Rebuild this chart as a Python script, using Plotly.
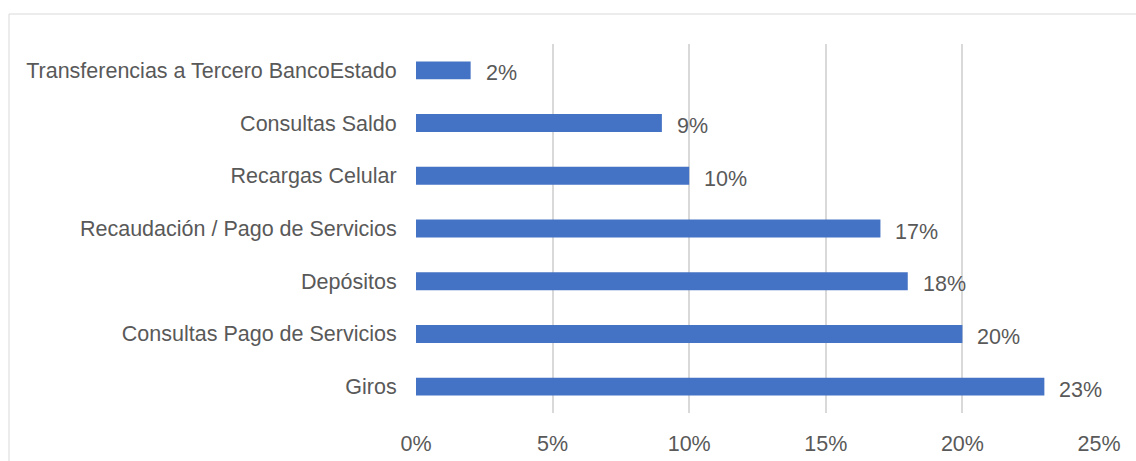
import plotly.graph_objects as go

categories = ["Giros", "Consultas Pago de Servicios", "Depósitos",
              "Recaudación / Pago de Servicios", "Recargas Celular",
              "Consultas Saldo", "Transferencias a Tercero BancoEstado"]
values = [23, 20, 18, 17, 10, 9, 2]
tick_vals = [0, 5, 10, 15, 20, 25]
tick_text = ["0%", "5%", "10%", "15%", "20%", "25%"]

W, H = 1136, 461
L, R, T, B = 416, 37, 44, 48
pw, ph = W - L - R, H - T - B
FS = 21.5
FONT = "Liberation Sans, Arial, sans-serif"

fig = go.Figure()
fig.add_trace(go.Bar(
    x=values, y=categories, orientation="h",
    marker=dict(color="#4472C4", line=dict(width=0)),
    width=0.34, hoverinfo="skip",
))
for v, c in zip(values, categories):
    fig.add_annotation(x=v, y=c, text=f"{v}%", showarrow=False,
                       xanchor="left", yanchor="middle", xshift=13, yshift=-3,
                       font=dict(family=FONT, size=FS, color="#595959"))

fig.add_shape(type="rect", xref="paper", yref="paper",
              x0=(9 - L) / pw, x1=2, y0=-2, y1=1 + (T - 14) / ph,
              line=dict(color="#d9d9d9", width=1), fillcolor="rgba(0,0,0,0)",
              layer="below")

fig.update_layout(
    width=W, height=H,
    margin=dict(l=L, r=R, t=T, b=B, autoexpand=False),
    plot_bgcolor="white", paper_bgcolor="white",
    showlegend=False,
    font=dict(family=FONT, size=FS, color="#595959"),
    xaxis=dict(range=[0, 25], tickvals=tick_vals, ticktext=tick_text,
               showgrid=True, gridcolor="#d9d9d9", gridwidth=1.5,
               zeroline=False, showline=False, automargin=False,
               ticks="outside", ticklen=11, tickcolor="rgba(0,0,0,0)",
               tickfont=dict(size=FS, color="#595959"), fixedrange=True),
    yaxis=dict(categoryorder="array", categoryarray=categories,
               showgrid=False, zeroline=False, showline=False, automargin=False,
               ticks="outside", ticklen=14, tickcolor="rgba(0,0,0,0)",
               tickfont=dict(size=FS, color="#595959"), fixedrange=True),
    bargap=0.66,
)

fig.write_html("out.html", config={"displayModeBar": False})
